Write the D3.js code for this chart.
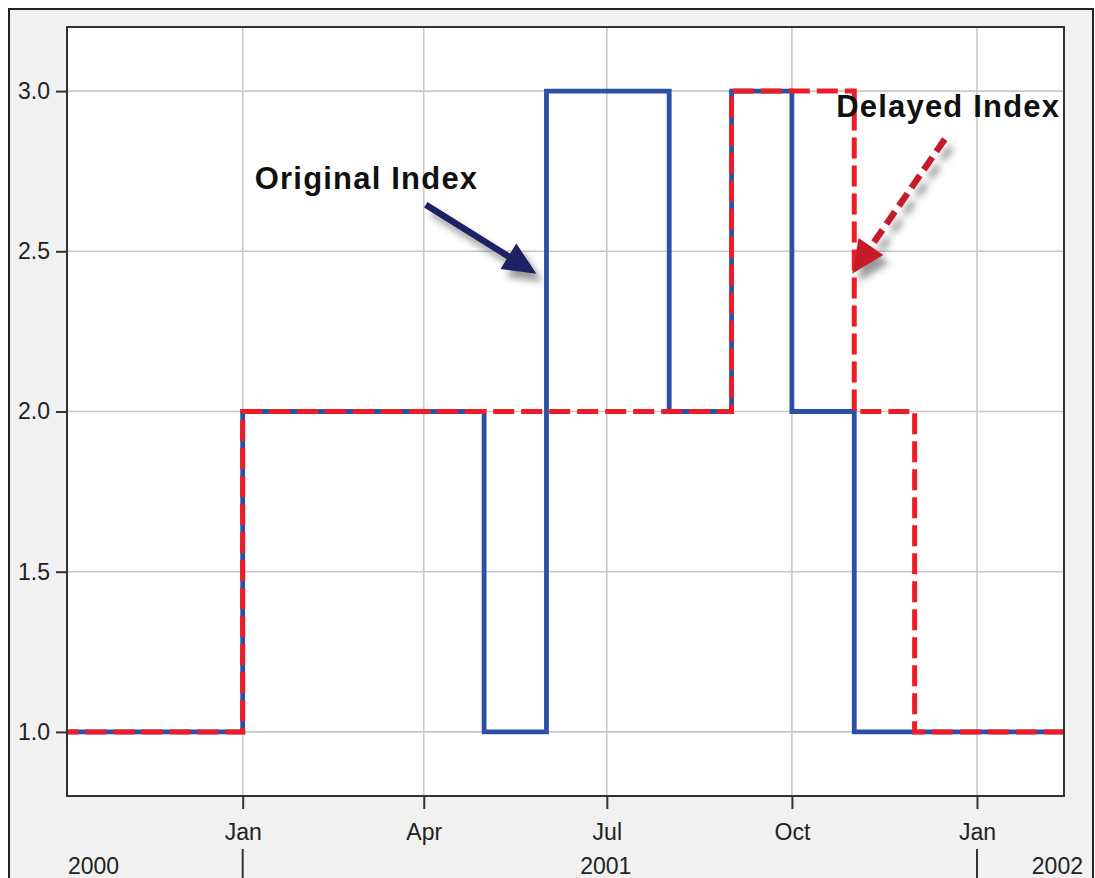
<!DOCTYPE html>
<html>
<head>
<meta charset="utf-8">
<script src="https://cdnjs.cloudflare.com/ajax/libs/d3/7.8.5/d3.min.js"></script>
<style>
  body { margin: 0; background: #fff; }
  .tick-label { font-family: "Liberation Sans", Arial, sans-serif; font-size: 23px; fill: #222; }
  .note { font-family: "Liberation Sans", Arial, sans-serif; font-size: 31px; font-weight: bold; fill: #111; letter-spacing: 1.2px; }
</style>
</head>
<body>
<div class="graph"></div>
<script>
/*--------------- DATA -------------*/
const months = ["2000-10", "2000-11", "2000-12",
  "2001-01", "2001-02", "2001-03", "2001-04", "2001-05", "2001-06",
  "2001-07", "2001-08", "2001-09", "2001-10", "2001-11", "2001-12",
  "2002-01", "2002-02", "2002-03"];
const originalIndex = [1, 1, 1, 2, 2, 2, 2, 1, 3, 3, 2, 3, 2, 1, 1, 1, 1, 1];
const delayedIndex  = [1, 1, 1, 2, 2, 2, 2, 2, 2, 2, 2, 3, 3, 2, 1, 1, 1, 1];
const yTicks = [1.0, 1.5, 2.0, 2.5, 3.0];
const yearLabels = ["2000", "2001", "2002"];

/*--------------- D3 STUFF -------------*/
const SIZE = {X: 1095, Y: 878};
const PLOT = {LEFT: 67, TOP: 27, RIGHT: 1064, BOTTOM: 796};

const parseMonth = d3.timeParse("%Y-%m");

const svg = d3.select(".graph").append("svg")
    .attr("width", SIZE.X)
    .attr("height", SIZE.Y);

const defs = svg.append("defs");
defs.append("clipPath").attr("id", "clip")
  .append("rect")
    .attr("x", PLOT.LEFT).attr("y", PLOT.TOP)
    .attr("width", PLOT.RIGHT - PLOT.LEFT)
    .attr("height", PLOT.BOTTOM - PLOT.TOP);

// soft shadow under the arrows
const shadow = defs.append("filter").attr("id", "shadow")
    .attr("x", "-30%").attr("y", "-30%").attr("width", "160%").attr("height", "160%");
shadow.append("feDropShadow")
    .attr("dx", 6).attr("dy", 8)
    .attr("stdDeviation", 3.5)
    .attr("flood-color", "#444")
    .attr("flood-opacity", 0.55);

//outer panel
svg.append("rect")
    .attr("x", 9).attr("y", 9)
    .attr("width", 1084).attr("height", 900)
    .attr("fill", "#f0f1f0")
    .attr("stroke", "#222")
    .attr("stroke-width", 2);

//plot background
svg.append("rect")
    .attr("x", PLOT.LEFT).attr("y", PLOT.TOP)
    .attr("width", PLOT.RIGHT - PLOT.LEFT)
    .attr("height", PLOT.BOTTOM - PLOT.TOP)
    .attr("fill", "#fff");

//scales
const x = d3.scaleTime()
    .domain([new Date(2000, 9, 5, 16), new Date(2002, 1, 13, 6)])
    .range([PLOT.LEFT, PLOT.RIGHT]);

const y = d3.scaleLinear()
    .domain([0.8, 3.2])
    .range([PLOT.BOTTOM, PLOT.TOP]);

const xTicks = x.ticks(d3.timeMonth.every(3));

//grid
const grid = svg.append("g").attr("stroke", "#c8c8c8").attr("stroke-width", 1.6);
grid.selectAll(".vg").data(xTicks).enter().append("line")
    .attr("x1", d => x(d)).attr("x2", d => x(d))
    .attr("y1", PLOT.TOP).attr("y2", PLOT.BOTTOM);
grid.selectAll(".hg").data(yTicks).enter().append("line")
    .attr("x1", PLOT.LEFT).attr("x2", PLOT.RIGHT)
    .attr("y1", d => y(d)).attr("y2", d => y(d));

//axes
const xAxisCall = d3.axisBottom(x)
    .tickValues(xTicks)
    .tickFormat(d3.timeFormat("%b"))
    .tickSize(13)
    .tickPadding(10);

const yAxisCall = d3.axisLeft(y)
    .tickValues(yTicks)
    .tickFormat(d3.format(".1f"))
    .tickSize(11)
    .tickPadding(6);

const xAxis = svg.append("g")
    .attr("transform", `translate(0, ${PLOT.BOTTOM})`)
    .call(xAxisCall);

const yAxis = svg.append("g")
    .attr("transform", `translate(${PLOT.LEFT}, 0)`)
    .call(yAxisCall);

[xAxis, yAxis].forEach(a => {
    a.select(".domain").remove();
    a.selectAll(".tick line").attr("stroke", "#333").attr("stroke-width", 2);
    a.selectAll(".tick text").attr("class", "tick-label").attr("font-family", null).attr("font-size", null);
});
xAxis.selectAll(".tick text").attr("dy", "0.9em");

//year row
const years = yearLabels.map(s => +s);
const yearBounds = years.slice(1).map(yr => new Date(yr, 0, 1));

svg.append("g").selectAll("line").data(yearBounds).enter().append("line")
    .attr("x1", d => x(d)).attr("x2", d => x(d))
    .attr("y1", 849).attr("y2", SIZE.Y)
    .attr("stroke", "#333").attr("stroke-width", 2);

svg.append("g").selectAll("text").data(yearLabels).enter().append("text")
    .attr("class", "tick-label")
    .attr("y", 874)
    .attr("text-anchor", (d, i) => i === 0 ? "start" : (i === yearLabels.length - 1 ? "end" : "middle"))
    .attr("x", (d, i) => {
        if (i === 0) return PLOT.LEFT + 1;
        if (i === yearLabels.length - 1) return PLOT.RIGHT + 19;
        const a = x(new Date(+d, 0, 1)), b = x(new Date(+d + 1, 0, 1));
        return (a + b) / 2 - 4;
    })
    .text(d => d);

//lines
const origData = months.map((m, i) => ({date: parseMonth(m), value: originalIndex[i]}));
const delData = months.map((m, i) => ({date: parseMonth(m), value: delayedIndex[i]}));

const line = d3.line()
    .x(d => x(d.date))
    .y(d => y(d.value))
    .curve(d3.curveStepAfter);

const lines = svg.append("g").attr("clip-path", "url(#clip)");

lines.append("path")
    .attr("d", line(origData))
    .attr("fill", "none")
    .attr("stroke", "#2c50a6")
    .attr("stroke-width", 4.8)
    .attr("stroke-linejoin", "miter");

lines.append("path")
    .attr("d", line(delData))
    .attr("fill", "none")
    .attr("stroke", "#ee1c27")
    .attr("stroke-width", 5)
    .attr("stroke-dasharray", "21,7")
    .attr("stroke-linejoin", "miter");

//plot frame
svg.append("rect")
    .attr("x", PLOT.LEFT).attr("y", PLOT.TOP)
    .attr("width", PLOT.RIGHT - PLOT.LEFT)
    .attr("height", PLOT.BOTTOM - PLOT.TOP)
    .attr("fill", "none")
    .attr("stroke", "#333")
    .attr("stroke-width", 2);

/*---------- ANNOTATIONS ----------*/
// positions given in data terms so they follow the scales
const notes = [
    {text: "Original Index", date: new Date(2001, 0, 7), value: 2.695,
     from: [new Date(2001, 3, 2), 2.645], to: [new Date(2001, 4, 27), 2.43],
     color: "#1b2163", dash: null},
    {text: "Delayed Index", date: new Date(2001, 9, 23), value: 2.92,
     from: [new Date(2001, 11, 16), 2.85], to: [new Date(2001, 9, 31), 2.43],
     color: "#c61f2a", dash: "15,7"}
];

function arrow(g, n) {
    const x0 = x(n.from[0]), y0 = y(n.from[1]);
    const x1 = x(n.to[0]), y1 = y(n.to[1]);
    const len = Math.hypot(x1 - x0, y1 - y0);
    const ux = (x1 - x0) / len, uy = (y1 - y0) / len;
    const headL = 33, headW = 15;
    const bx = x1 - ux * headL, by = y1 - uy * headL;

    const a = g.append("g").attr("filter", "url(#shadow)");
    a.append("line")
        .attr("x1", x0).attr("y1", y0)
        .attr("x2", bx + ux * 4).attr("y2", by + uy * 4)
        .attr("stroke", n.color)
        .attr("stroke-width", 6.5)
        .attr("stroke-dasharray", n.dash);
    a.append("path")
        .attr("d", `M${x1},${y1}L${bx - uy * headW},${by + ux * headW}L${bx + uy * headW},${by - ux * headW}Z`)
        .attr("fill", n.color);
}

const noteG = svg.append("g");
notes.forEach(n => {
    arrow(noteG, n);
    noteG.append("text")
        .attr("class", "note")
        .attr("x", x(n.date))
        .attr("y", y(n.value))
        .text(n.text);
});
</script>
</body>
</html>
